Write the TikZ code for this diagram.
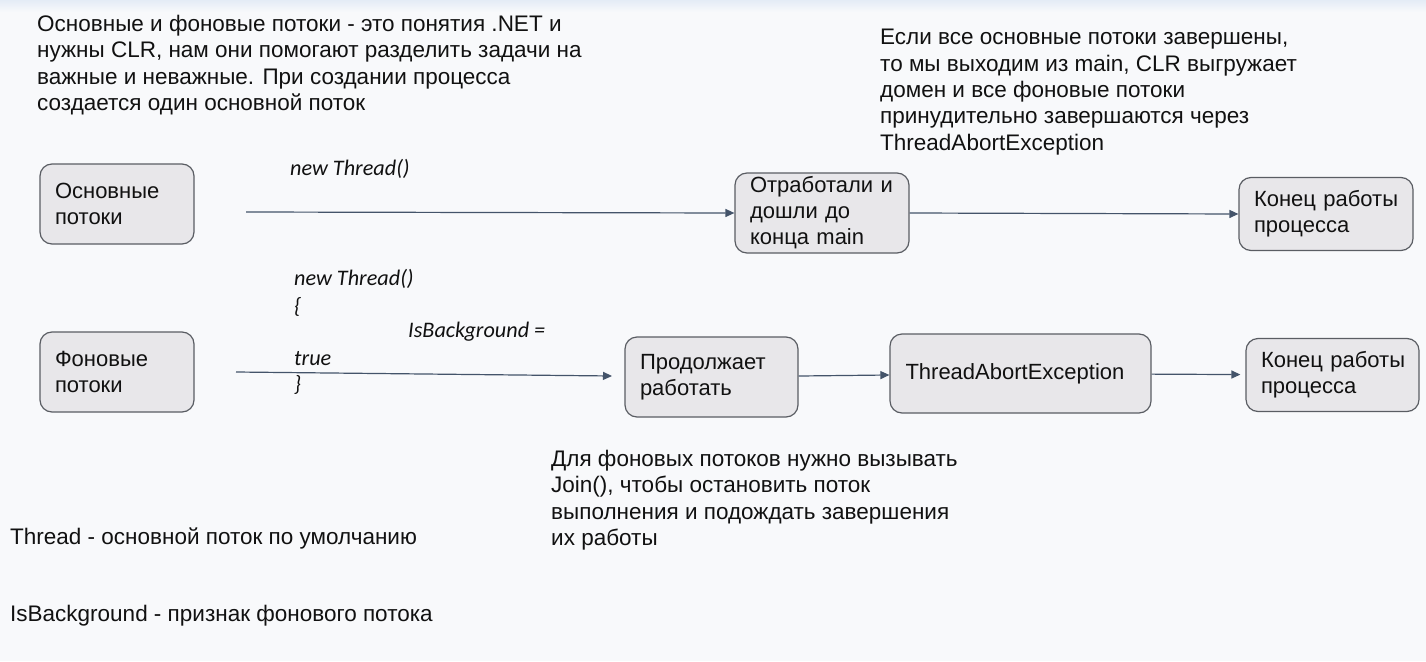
\documentclass[tikz,border=0pt]{standalone}
\usepackage{fontspec}
\setmainfont{Liberation Sans}
\newfontfamily\itfam{Carlito}
\usetikzlibrary{arrows.meta}
\definecolor{bgc}{HTML}{F8F9FB}
\definecolor{bandc}{HTML}{E4ECF6}
\definecolor{boxfill}{HTML}{E8E7EA}
\definecolor{boxdraw}{HTML}{5A5D63}
\definecolor{arrc}{HTML}{44546A}
\definecolor{txt}{HTML}{111111}
\tikzset{
  note/.style={anchor=north west, inner sep=0pt, align=left, text=txt,
    font=\fontsize{22.5}{26.4}\selectfont},
  code/.style={anchor=west, inner sep=0pt, text=txt,
    font=\itfam\itshape\fontsize{22.2}{24}\selectfont},
  stepbox/.style={draw=boxdraw, fill=boxfill, rounded corners=12pt, line width=1.2pt,
    inner xsep=15pt, inner ysep=0pt, align=left, text=txt,
    font=\fontsize{22}{26}\selectfont},
  conn/.style={draw=arrc, line width=1.2pt, -{Triangle[length=9pt,width=8pt]}}
}
\begin{document}
\begin{tikzpicture}[x=1pt,y=-1pt]
\useasboundingbox (0,0) rectangle (1426,661);
\fill[bgc] (0,0) rectangle (1426,661);
\shade[top color=bandc, bottom color=bgc] (0,0) rectangle (1426,12);

% notes
\node[note] (t1) at (37,15) {Основные и фоновые потоки - это понятия .NET и\\нужны CLR, нам они помогают разделить задачи на\\важные и неважные. При создании процесса\\создается один основной поток};
\node[note] (t2) at (880,29) {Если все основные потоки завершены,\\то мы выходим из main, CLR выгружает\\домен и все фоновые потоки\\принудительно завершаются через\\ThreadAbortException};
\node[note] (t3) at (551,450) {Для фоновых потоков нужно вызывать\\Join(), чтобы остановить поток\\выполнения и подождать завершения\\их работы};
\node[note] (t4) at (10,528) {Thread - основной поток по умолчанию};
\node[note] (t5) at (10,605) {IsBackground - признак фонового потока};

% boxes
\node[stepbox, minimum width=154pt, minimum height=80pt, text width=124pt] (n1) at (117,204) {Основные\\потоки};
\node[stepbox, minimum width=154pt, minimum height=80pt, text width=124pt] (n2) at (117,372) {Фоновые\\потоки};
\node[stepbox, minimum width=174pt, minimum height=80pt, text width=144pt] (n3) at (822,213) {\mbox{Отработали и}\\дошли до\\конца main};
\node[stepbox, minimum width=174pt, minimum height=73pt, text width=144pt] (n4) at (1326,214) {\mbox{Конец работы}\\процесса};
\node[stepbox, minimum width=173pt, minimum height=80pt, text width=143pt] (n5) at (711.5,377) {Продолжает\\работать};
\node[stepbox, minimum width=261pt, minimum height=79pt, text width=230pt] (n6) at (1020.5,373.5) {ThreadAbortException};
\node[stepbox, minimum width=173pt, minimum height=73pt, text width=143pt] (n7) at (1332.5,375) {\mbox{Конец работы}\\процесса};

% code labels
\node[code] (c1) at (290,169) {new Thread()};
\node[code] (c2) at (294,279) {new Thread()};
\node[code] (c3) at (294,307) {\{};
\node[code] (c4) at (408,332) {IsBackground =};
\node[code] (c5) at (294,359) {true};
\node[code] (c6) at (294,385) {\}};

% connectors
\coordinate (s1) at (246,212);
\coordinate (s2) at (236,372);
\coordinate (e2) at (612,376);
\draw[conn] (s1) -- (n3.west);
\draw[conn] (n3.east) -- (n4.west);
\draw[conn] (s2) -- (e2);
\draw[conn] (n5) -- (n6);
\draw[conn, shorten >=5pt] (n6) -- (n7);
\end{tikzpicture}
\end{document}
